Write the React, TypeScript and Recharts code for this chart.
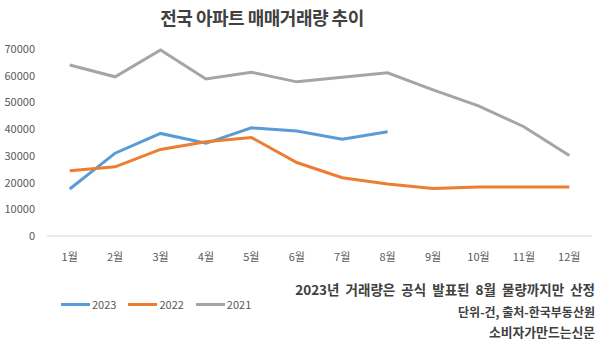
import React from "react";
import { LineChart, Line, XAxis, YAxis } from "recharts";

const months = ["1월", "2월", "3월", "4월", "5월", "6월", "7월", "8월", "9월", "10월", "11월", "12월"];
const s2023 = [17600, 31000, 38400, 34700, 40500, 39300, 36200, 39000, null, null, null, null];
const s2022 = [24400, 25900, 32400, 35300, 36900, 27500, 21800, 19500, 17800, 18300, 18300, 18300];
const s2021 = [64000, 59600, 69600, 58800, 61300, 57700, 59400, 61100, 54700, 48700, 40900, 30100];
const yTicks = [0, 10000, 20000, 30000, 40000, 50000, 60000, 70000];
const seriesNames = ["2023", "2022", "2021"];
const seriesKeys = ["a", "b", "c"];
const seriesColors = ["#5B9BD5", "#ED7D31", "#A5A5A5"];
const title = "전국 아파트 매매거래량 추이";
const notes = ["2023년 거래량은 공식 발표된 8월 물량까지만 산정", "단위-건, 출처-한국부동산원", "소비자가만드는신문"];

const data = months.map((m, i) => ({ m, a: s2023[i], b: s2022[i], c: s2021[i] }));

const FONT = "'Noto Sans CJK KR', 'Noto Sans', sans-serif";

const YTick = (props: any) => {
  const { y, payload } = props;
  return (
    <text x={35} y={y} dy={4} textAnchor="end" fontSize={11} fill="#595959" fontFamily={FONT}>
      {payload.value}
    </text>
  );
};

const XTick = (props: any) => {
  const { x, y, payload } = props;
  return (
    <text x={x} y={y} dy={17} textAnchor="middle" fontSize={11} fill="#595959" fontFamily={FONT}>
      {payload.value}
    </text>
  );
};

export default function App() {
  return (
    <div style={{ position: "relative", width: 600, height: 351, background: "#fff" }}>
      <style>{`body{margin:0}`}</style>
      <div
        style={{
          position: "absolute",
          left: 0,
          width: 524,
          top: 4,
          textAlign: "center",
          fontFamily: FONT,
          fontWeight: 700,
          fontSize: 18,
          color: "#404040",
          letterSpacing: -0.5,
        }}
      >
        {title}
      </div>
      <LineChart width={600} height={351} data={data} margin={{ top: 49, right: 8, bottom: 85, left: 0 }}>
        <XAxis
          dataKey="m"
          scale="band"
          height={30}
          axisLine={{ stroke: "#d9d9d9" }}
          tickLine={false}
          tick={<XTick />}
          interval={0}
        />
        <YAxis
          width={47}
          domain={[0, 70000]}
          ticks={yTicks}
          axisLine={false}
          tickLine={false}
          tick={<YTick />}
          interval={0}
        />
        {seriesKeys.map((k, i) => (
          <Line
            key={k}
            dataKey={k}
            name={seriesNames[i]}
            stroke={seriesColors[i]}
            strokeWidth={3}
            dot={false}
            isAnimationActive={false}
          />
        ))}
      </LineChart>
      <div
        style={{
          position: "absolute",
          left: 61,
          top: 296,
          display: "flex",
          alignItems: "center",
          fontFamily: FONT,
          fontSize: 11,
          lineHeight: "16px",
          color: "#595959",
        }}
      >
        {seriesNames.map((n, i) => (
          <div key={n} style={{ display: "flex", alignItems: "center", marginRight: 12 }}>
            <div style={{ width: 29, height: 3, background: seriesColors[i], marginRight: 2 }} />
            <span>{n}</span>
          </div>
        ))}
      </div>
      {notes.map((t, i) => (
        <div
          key={i}
          style={{
            position: "absolute",
            right: 5,
            top: [280, 303, 323][i],
            fontFamily: FONT,
            fontWeight: 700,
            fontSize: [13.5, 12, 12.8][i],
            lineHeight: "18px",
            wordSpacing: i === 0 ? 3 : 0,
            color: "#404040",
            whiteSpace: "nowrap",
          }}
        >
          {t}
        </div>
      ))}
    </div>
  );
}
